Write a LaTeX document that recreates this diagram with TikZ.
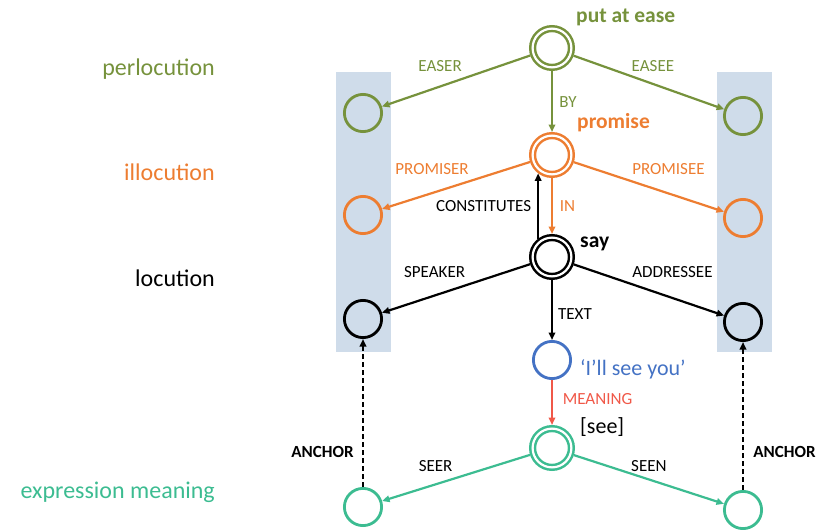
\documentclass[tikz,border=0pt]{standalone}
\usepackage{fontspec}
\setmainfont{Carlito}
\usetikzlibrary{arrows.meta}
\definecolor{cgreen}{RGB}{118,146,60}
\definecolor{corange}{RGB}{237,125,49}
\definecolor{cblue}{RGB}{68,114,196}
\definecolor{cred}{RGB}{240,88,72}
\definecolor{cteal}{RGB}{60,188,145}
\definecolor{cband}{RGB}{207,220,234}
\begin{document}
\begin{tikzpicture}[x=1pt,y=-1pt,
  >={Triangle[length=7.5pt,width=6.5pt]},
  sc/.style={circle,draw,line width=2.8pt,minimum size=37.2pt,inner sep=0pt,outer sep=1.4pt},
  dc/.style={circle,draw,double,double distance=2.2pt,line width=2.5pt,minimum size=38.8pt,inner sep=0pt,outer sep=3.6pt},
  conn/.style={->,line width=2.2pt},
  anch/.style={->,line width=2.2pt,dash pattern=on 5pt off 3pt},
  lbl/.style={font=\fontsize{17}{20}\selectfont,inner sep=0pt},
  blbl/.style={font=\fontsize{17}{20}\selectfont\bfseries,inner sep=0pt},
  side/.style={font=\fontsize{24}{28}\selectfont,anchor=base east,inner sep=0pt},
  head/.style={font=\fontsize{21.5}{25}\selectfont\bfseries,anchor=base west,inner sep=0pt},
  plain/.style={font=\fontsize{22}{26}\selectfont,anchor=base west,inner sep=0pt},
  band/.style={fill=cband,draw=none}
]
\useasboundingbox (0,0) rectangle (820,530);
% bands
\fill[band] (336,72) rectangle (391,352);
\fill[band] (717,72) rectangle (772,352);
% side labels
\node[side,text=cgreen] (Lperl) at (215,75) {perlocution};
\node[side,text=corange] (Lill) at (215,180) {illocution};
\node[side] (Lloc) at (215,286) {locution};
\node[side,text=cteal] (Lexp) at (215,498) {expression meaning};
% nodes
\node[dc,draw=cgreen] (PA) at (552,48) {};
\node[sc,draw=cgreen] (GL) at (363,113) {};
\node[sc,draw=cgreen] (GR) at (743,116) {};
\node[dc,draw=corange] (PR) at (552,155) {};
\node[sc,draw=corange] (OL) at (363,215) {};
\node[sc,draw=corange] (OR) at (743,218) {};
\node[dc,draw=black] (SAY) at (552,257) {};
\node[sc,draw=black] (BL) at (363,319) {};
\node[sc,draw=black] (BR) at (743,322) {};
\node[sc,draw=cblue] (TX) at (552,360) {};
\node[dc,draw=cteal] (SEE) at (552,448) {};
\node[sc,draw=cteal] (TL) at (363,507) {};
\node[sc,draw=cteal] (TR) at (743,510) {};
% node titles
\node[head,text=cgreen] (PAl) at (576,23) {put at ease};
\node[head,text=corange] (PRl) at (577,128) {promise};
\node[head] (SAYl) at (580,247) {say};
\node[plain,text=cblue] (TXl) at (580,375) {‘I’ll see you’};
\node[plain] (SEEl) at (580,433) {[see]};
% connectors
\draw[conn,cgreen] (PA) -- (GL) node[lbl,midway,shift={(-16,-15)}] {EASER};
\draw[conn,cgreen] (PA) -- (GR) node[lbl,midway,shift={(4,-16.5)}] {EASEE};
\draw[conn,cgreen] (PA) -- (PR) node[lbl,midway,shift={(16,0.5)}] {BY};
\draw[conn,corange] (PR) -- (OL) node[lbl,midway,shift={(-24,-16)}] {PROMISER};
\draw[conn,corange] (PR) -- (OR) node[lbl,midway,shift={(19.5,-17.5)}] {PROMISEE};
\draw[conn,black] (SAY.127) -- (PR.233) node[lbl,midway,shift={(-54.5,0)}] {CONSTITUTES};
\draw[conn,corange] (PR.south) -- (SAY.north) node[lbl,midway,shift={(15.5,0)}] {IN};
\draw[conn,black] (SAY) -- (BL) node[lbl,midway,shift={(-21.5,-16.5)}] {SPEAKER};
\draw[conn,black] (SAY) -- (BR) node[lbl,midway,shift={(23.5,-18)}] {ADDRESSEE};
\draw[conn,black] (SAY) -- (TX) node[lbl,midway,shift={(23,4)}] {TEXT};
\draw[conn,cred] (TX) -- (SEE) node[lbl,midway,shift={(45.5,-3.5)}] {MEANING};
\draw[conn,cteal] (SEE) -- (TL) node[lbl,text=black,midway,shift={(-20.5,-12)}] {SEER};
\draw[conn,cteal] (SEE) -- (TR) node[lbl,text=black,midway,shift={(0,-13.5)}] {SEEN};
\draw[anch,black] (TL) -- (BL) node[blbl,midway,shift={(-40.5,39)}] {ANCHOR};
\draw[anch,black] (TR) -- (BR) node[blbl,midway,shift={(41.5,36)}] {ANCHOR};
\end{tikzpicture}
\end{document}
